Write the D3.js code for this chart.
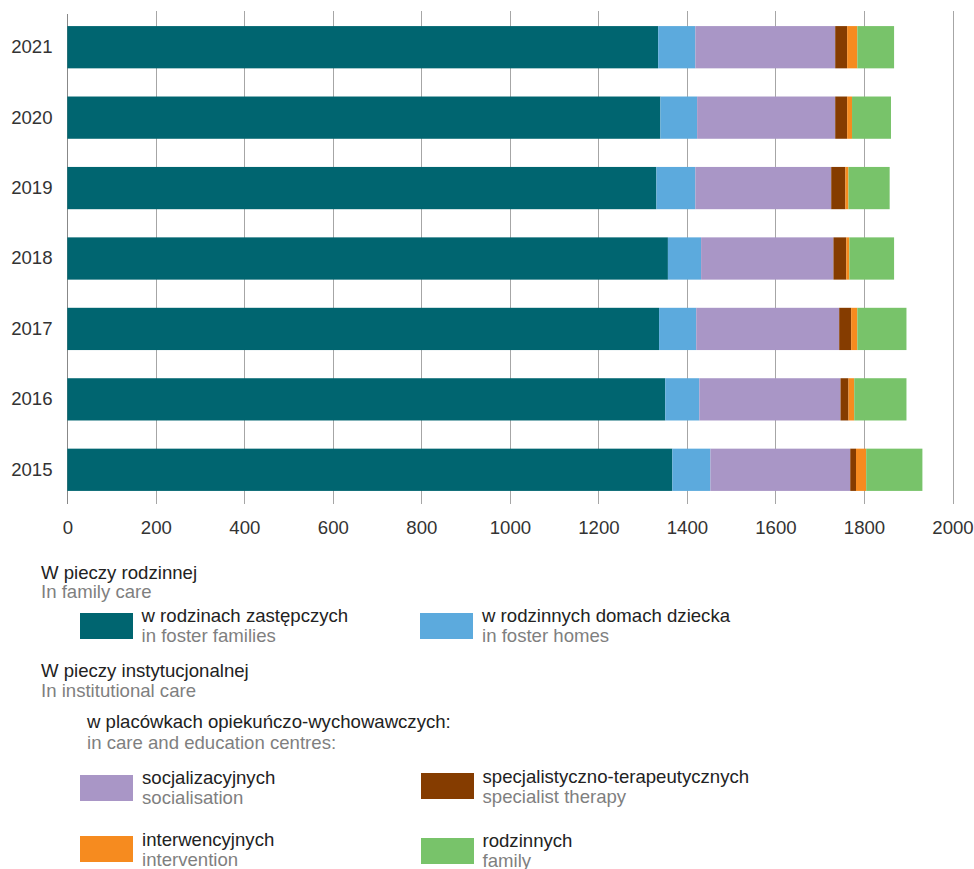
<!DOCTYPE html>
<html><head><meta charset="utf-8">
<script src="https://cdn.jsdelivr.net/npm/d3@7"></script>
<style>
html,body{margin:0;padding:0;background:#fff;}
svg text{font-family:"Liberation Sans",Arial,sans-serif;}
</style></head>
<body>
<svg id="chart" width="974" height="869"></svg>
<script>
const years = ["2021","2020","2019","2018","2017","2016","2015"];
const fosterFamilies = [1335, 1340, 1331, 1357, 1337, 1351, 1367];
const fosterHomes    = [84, 83, 88, 75, 84, 77, 86];
const socialisation  = [316, 312, 307, 299, 323, 319, 316];
const specialist     = [27, 27, 32, 29, 27, 18, 13];
const intervention   = [23, 11, 7, 7, 14, 13, 23];
const familyCentres  = [83, 88, 93, 101, 111, 118, 127];
const xTicks = [0,200,400,600,800,1000,1200,1400,1600,1800,2000];

const seriesKeys = ["fosterFamilies","fosterHomes","socialisation","specialist","intervention","familyCentres"];
const seriesValues = {fosterFamilies, fosterHomes, socialisation, specialist, intervention, familyCentres};
const seriesPl = ["w rodzinach zastępczych","w rodzinnych domach dziecka","socjalizacyjnych","specjalistyczno-terapeutycznych","interwencyjnych","rodzinnych"];
const seriesEn = ["in foster families","in foster homes","socialisation","specialist therapy","intervention","family"];
const colors = ["#006570","#5caadd","#a996c6","#853c00","#f68b1f","#78c36a"];

const table = years.map((y,i)=>{
  const o = {year:y};
  seriesKeys.forEach(k=>o[k]=seriesValues[k][i]);
  return o;
});

const FS = "18.6px";
const svg = d3.select("#chart");
const x = d3.scaleLinear().domain([0,2000]).range([67.3,952.5]);
const y = d3.scaleBand().domain(years).range([12,505]).paddingInner(0.4).paddingOuter(0.2);
const color = d3.scaleOrdinal().domain(seriesKeys).range(colors);

// grid
svg.append("g").selectAll("line").data(xTicks).join("line")
  .attr("x1",d=>Math.round(x(d))+0.5).attr("x2",d=>Math.round(x(d))+0.5)
  .attr("y1",d=>d===0?14:11).attr("y2",504)
  .attr("stroke",d=>d===0?"#888":"#a6a6a6").attr("stroke-width",1);

const stack = d3.stack().keys(seriesKeys)(table);
svg.append("g").selectAll("g").data(stack).join("g")
  .attr("fill",d=>color(d.key))
  .selectAll("rect").data(d=>d).join("rect")
  .attr("x",d=>x(d[0])).attr("width",d=>x(d[1])-x(d[0]))
  .attr("y",d=>y(d.data.year)).attr("height",y.bandwidth());

// x labels
const xAxis = d3.axisBottom(x).tickValues(xTicks).tickFormat(d3.format("d")).tickSize(0).tickPadding(0);
const gx = svg.append("g").attr("transform","translate(0,521)").call(xAxis);
gx.select(".domain").remove();
gx.selectAll("text").attr("font-size",FS).attr("fill","#333").attr("dy","0.71em")
  .style("font-family","'Liberation Sans',Arial,sans-serif");

// y labels
const yAxis = d3.axisLeft(y).tickSize(0).tickPadding(0);
const gy = svg.append("g").attr("transform","translate(52.5,0)").call(yAxis);
gy.select(".domain").remove();
gy.selectAll("text").attr("font-size",FS).attr("fill","#333")
  .style("font-family","'Liberation Sans',Arial,sans-serif");

// legend
const lg = svg.append("g").attr("font-size",FS);
function txt(xp, yp, t, c){ lg.append("text").attr("x",xp).attr("y",yp).attr("fill",c).text(t); }
const dark="#222", grey="#7f7f7f";
txt(41,579,"W pieczy rodzinnej",dark);
txt(41,598,"In family care",grey);
txt(41,677,"W pieczy instytucjonalnej",dark);
txt(41,697,"In institutional care",grey);
txt(87,728,"w placówkach opiekuńczo-wychowawczych:",dark);
txt(87,749,"in care and education centres:",grey);

const legendPos = [
  {sx:80, sy:613, tx:141.5, b1:622, b2:642},
  {sx:420, sy:613, tx:482, b1:622, b2:642},
  {sx:80, sy:775, tx:142, b1:784, b2:804},
  {sx:421, sy:773, tx:482.5, b1:783, b2:803},
  {sx:80, sy:836, tx:142, b1:846, b2:866},
  {sx:421, sy:838, tx:482.5, b1:847, b2:867}
];
seriesKeys.forEach((k,i)=>{
  const p = legendPos[i];
  lg.append("rect").attr("x",p.sx).attr("y",p.sy).attr("width",53).attr("height",26).attr("fill",color(k));
  txt(p.tx,p.b1,seriesPl[i],dark);
  txt(p.tx,p.b2,seriesEn[i],grey);
});
</script>
</body></html>
